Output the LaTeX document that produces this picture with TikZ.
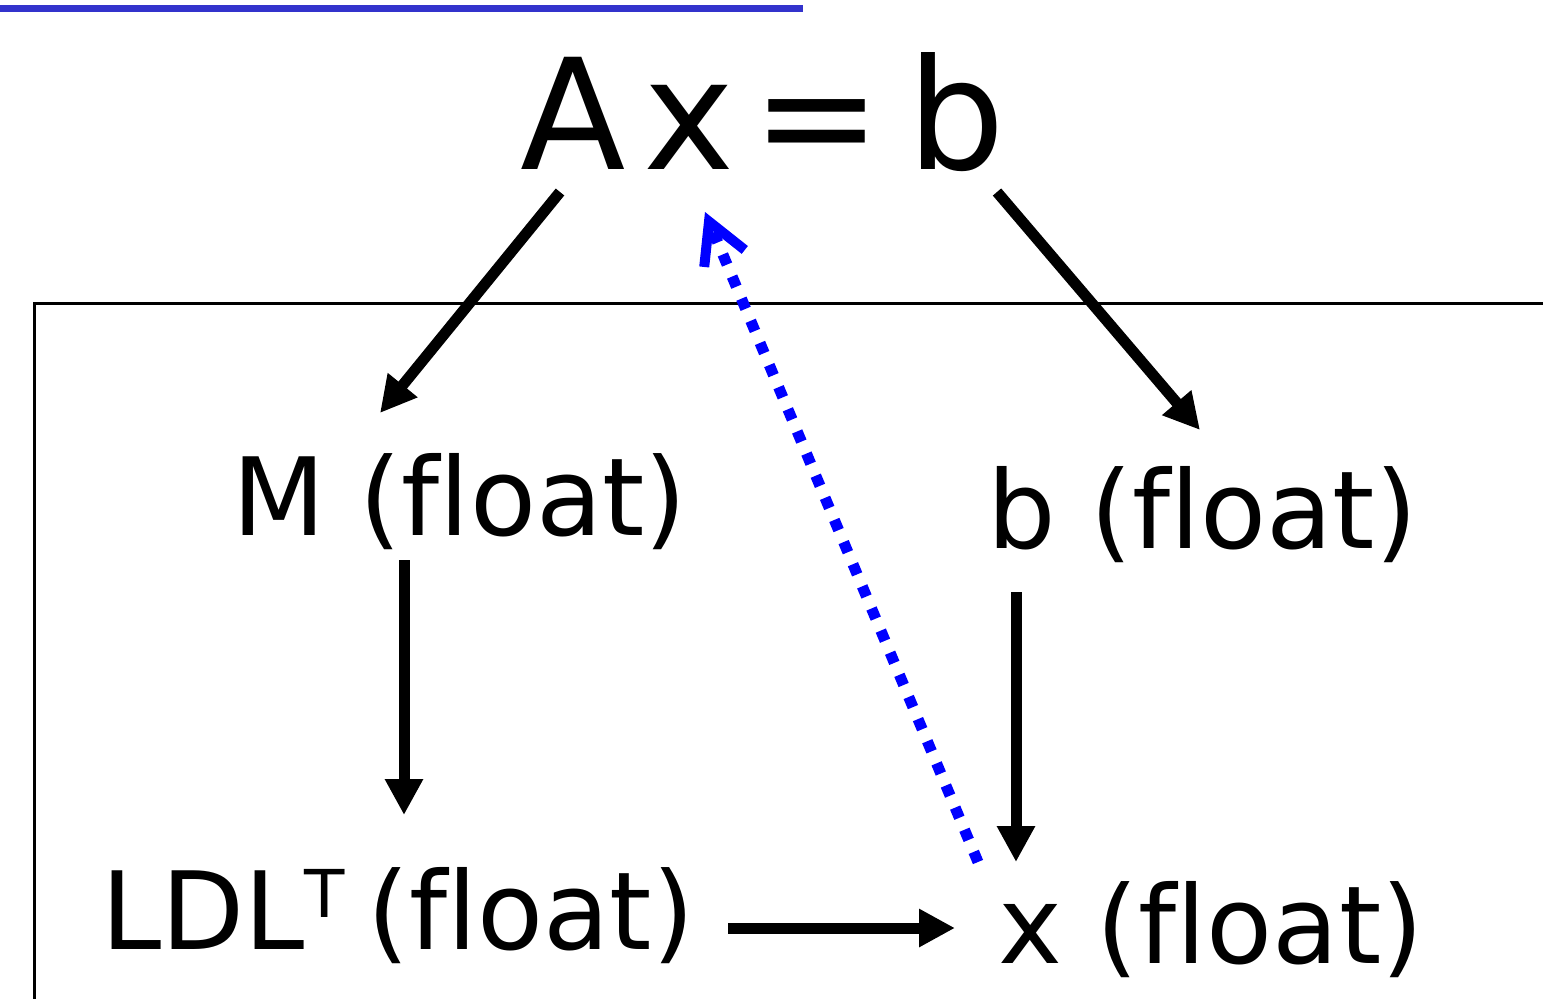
\documentclass[tikz,border=0pt]{standalone}
\usepackage{fontspec}
\setmainfont[Ligatures=NoCommon]{DejaVu Sans}
\usetikzlibrary{arrows.meta}
\begin{document}
\begin{tikzpicture}[x=0.5pt,y=-0.5pt,
  lbl/.style={anchor=base west, inner sep=0pt, font=\fontsize{54}{60}\selectfont},
  big/.style={anchor=base west, inner sep=0pt, font=\fontsize{77}{90}\selectfont},
  arr/.style={line width=5.5pt, -{Triangle[length=18pt,width=18pt]}},
  barr/.style={draw={rgb,255:red,0;green,0;blue,255}, line width=5.5pt, dash pattern=on 5.5pt off 6.5pt, -{Straight Barb[length=20pt,width=22pt,line width'=5pt]}},
  frame/.style={line width=1.5pt}]
\useasboundingbox (0,0) rectangle (1543,998);
% top blue underline
\fill[fill={rgb,255:red,51;green,51;blue,204}] (0,5) rectangle (803,11.5);
% frame
\draw[frame] (1560,303) -- (34,303) -- (34,1010);
% texts
\node[big] (eq) at (520,169) {A\hspace{9pt}x\hspace{9pt}=\hspace{13pt}b};
\node[lbl] (M) at (232,535) {M (float)};
\node[lbl] (bf) at (987,548) {b (float)};
\node[lbl] (L) at (101,949) {LDL\raisebox{16pt}{\fontsize{33}{33}\selectfont T}\hspace{11pt}(float)};
\node[lbl] (xf) at (998,963) {x (float)};
% arrow end points
\coordinate (a1s) at (560,192); \coordinate (a1e) at (380,413);
\coordinate (a2s) at (997,192); \coordinate (a2e) at (1200,430);
\coordinate (a3s) at (404,560); \coordinate (a3e) at (404,815);
\coordinate (a4s) at (1016,592); \coordinate (a4e) at (1016,862);
\coordinate (a5s) at (728,928); \coordinate (a5e) at (955,928);
\coordinate (bs) at (978,862); \coordinate (be) at (705,212);
\draw[arr] (a1s) -- (a1e);
\draw[arr] (a2s) -- (a2e);
\draw[arr] (a3s) -- (a3e);
\draw[arr] (a4s) -- (a4e);
\draw[arr] (a5s) -- (a5e);
\draw[barr] (bs) -- (be);
\end{tikzpicture}
\end{document}
